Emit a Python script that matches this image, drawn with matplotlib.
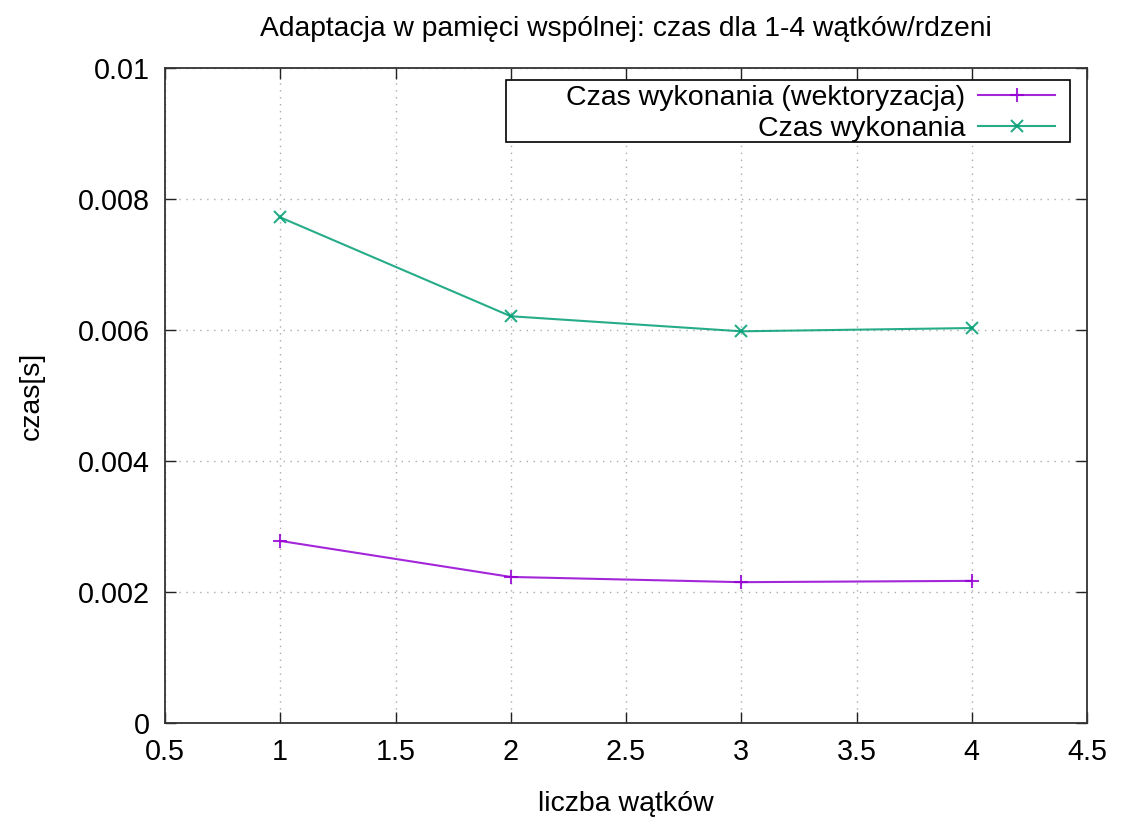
import numpy as np
import matplotlib.pyplot as plt
from matplotlib.patches import Rectangle
from matplotlib.ticker import FuncFormatter

plt.rcParams['font.family'] = ['Liberation Sans', 'DejaVu Sans']

watki = [1, 2, 3, 4]
czas_wekt = [0.00278, 0.00223, 0.00215, 0.00217]
czas = [0.00772, 0.00621, 0.00598, 0.00603]

W, H = 1121, 818
fig = plt.figure(figsize=(W / 100, H / 100), dpi=100)
ax = fig.add_axes([165 / W, 1 - 723 / H, (1087 - 165) / W, (723 - 68) / H])

ax.plot(watki, czas_wekt, color='#9400d3', lw=1.5, marker='+', ms=10, mew=1.5,
        alpha=0.85, label='Czas wykonania (wektoryzacja)')
ax.plot(watki, czas, color='#009e73', lw=1.5, marker='x', ms=8, mew=1.5,
        alpha=0.85, label='Czas wykonania')

ax.set_xlim(0.5, 4.5)
ax.set_ylim(0, 0.01)
ax.set_xticks(np.arange(0.5, 4.51, 0.5))
ax.set_yticks(np.arange(0, 0.0101, 0.002))
fmt = FuncFormatter(lambda v, p: '%g' % round(v, 4))
ax.xaxis.set_major_formatter(fmt)
ax.yaxis.set_major_formatter(fmt)
ax.tick_params(direction='in', length=8, width=1, top=True, right=True,
               labelsize=20.7, pad=11, color='#222222')
ax.grid(True, linestyle=(0, (1, 4)), color='#aaaaaa', lw=1)
for s in ax.spines.values():
    s.set_linewidth(1.3)
    s.set_color('#333333')

ax.set_title('Adaptacja w pamięci wspólnej: czas dla 1-4 wątków/rdzeni',
             fontsize=20.3, pad=23)
ax.set_xlabel('liczba wątków', fontsize=20.5, labelpad=18)
ax.set_ylabel('czas[s]', fontsize=20.5, labelpad=24)

# gnuplot-like key: box with wide left margin, labels right-aligned
ax.add_patch(Rectangle((0.3698, 0.887), 0.6118, 0.0947, transform=ax.transAxes,
                       facecolor='white', edgecolor='black', lw=1.2, zorder=4.5))
leg = ax.legend(loc='upper right', bbox_to_anchor=(0.9653, 0.974), fontsize=20.5,
                markerfirst=False, frameon=False, handlelength=2.7,
                handletextpad=0.45, borderaxespad=0, borderpad=0,
                labelspacing=0.19)
for col in leg._legend_handle_box.get_children():
    col.align = 'right'

fig.savefig('out.png', dpi=100)
